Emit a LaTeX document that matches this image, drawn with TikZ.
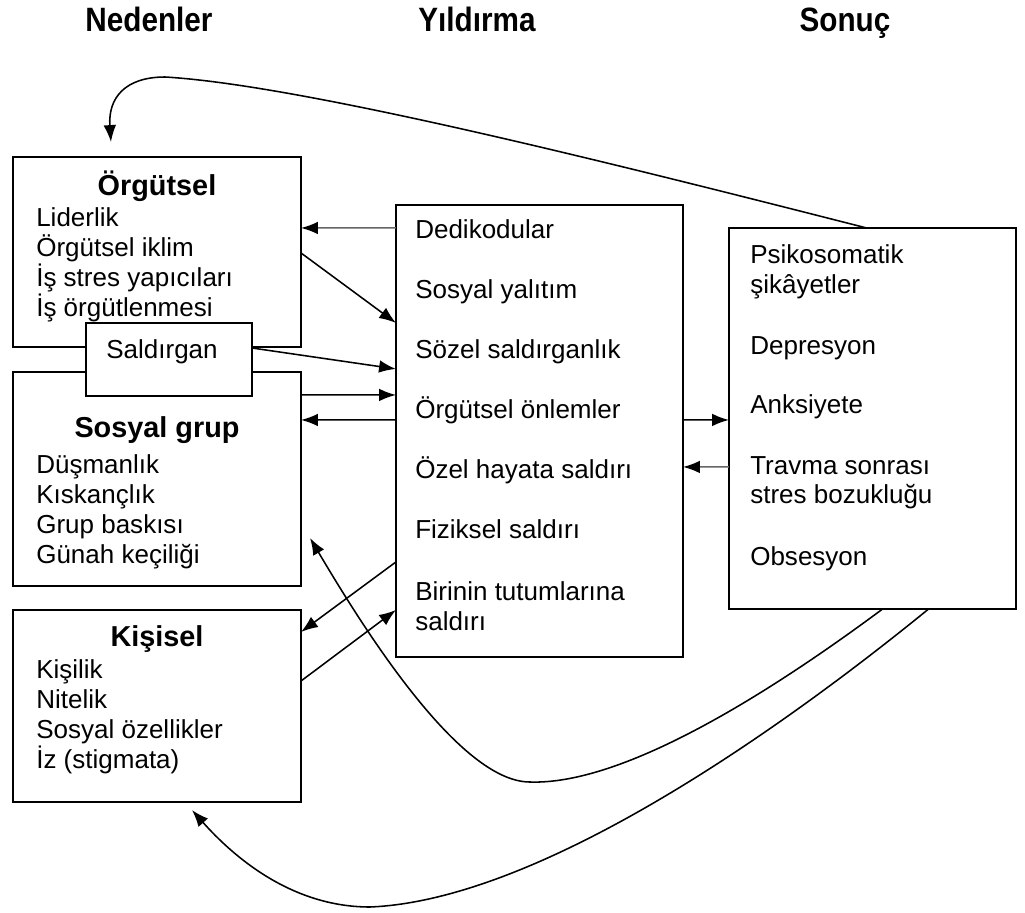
\documentclass[tikz,border=0pt]{standalone}
\usepackage{fontspec}
\setmainfont{Liberation Sans}
\newfontfamily\headfont[FakeStretch=0.88]{Liberation Sans}
\usetikzlibrary{
    arrows.meta,
    calc,
    positioning
}

\tikzset{
    box/.style={draw, line width=1.3pt, inner sep=0pt, outer sep=0pt, fill=white},
    txt/.style={anchor=base west, inner sep=0pt, font=\fontsize{18.5}{21}\selectfont},
    ttl/.style={anchor=base, inner sep=0pt, font=\bfseries\fontsize{20.5}{24}\selectfont},
    hdr/.style={anchor=base, inner sep=0pt, font=\headfont\bfseries\fontsize{24}{28}\selectfont},
    arr/.style={-{Latex[length=12pt,width=9pt,color=black]}, line width=1.1pt},
    garr/.style={arr, draw=black!60}
}

\begin{document}
\begin{tikzpicture}[x=0.025cm, y=-0.025cm]
    \useasboundingbox (0,0) rectangle (1025,913);

    % headings
    \node[hdr] (hneden) at (149,32) {Nedenler};
    \node[hdr] (hyild) at (477,32) {Yıldırma};
    \node[hdr] (hsonuc) at (845,32) {Sonuç};

    % boxes
    \node[box, minimum width=7.2cm, minimum height=4.75cm] (org) at (157,252) {};
    \node[box, minimum width=7.2cm, minimum height=5.35cm] (sos) at (157,479) {};
    \node[box, minimum width=4.15cm, minimum height=1.825cm] (sald) at (169,359.5) {};
    \node[box, minimum width=7.2cm, minimum height=4.8cm] (kis) at (157,706) {};
    \node[box, minimum width=7.175cm, minimum height=11.3cm] (mid) at (539.5,431) {};
    \node[box, minimum width=7.175cm, minimum height=9.525cm] (son) at (872.5,418.5) {};

    % Nedenler
    \node[ttl] (orgttl) at (157,195) {Örgütsel};
    \node[txt] (org1) at (36,226) {Liderlik};
    \node[txt] (org2) at (36,256) {Örgütsel iklim};
    \node[txt] (org3) at (36,286) {İş stres yapıcıları};
    \node[txt] (org4) at (36,316) {İş örgütlenmesi};
    \node[anchor=base, inner sep=0pt, font=\fontsize{18.5}{21}\selectfont] (saldtxt) at (162,358) {Saldırgan};
    \node[ttl] (sosttl) at (157,437) {Sosyal grup};
    \node[txt] (sos1) at (36,473) {Düşmanlık};
    \node[txt] (sos2) at (36,503) {Kıskançlık};
    \node[txt] (sos3) at (36,533) {Grup baskısı};
    \node[txt] (sos4) at (36,563) {Günah keçiliği};
    \node[ttl] (kisttl) at (157,646) {Kişisel};
    \node[txt] (kis1) at (36,678) {Kişilik};
    \node[txt] (kis2) at (36,708) {Nitelik};
    \node[txt] (kis3) at (36,738) {Sosyal özellikler};
    \node[txt] (kis4) at (36,768) {İz (stigmata)};

    % Yildirma
    \node[txt] (mid1) at (415,238) {Dedikodular};
    \node[txt] (mid2) at (415,298) {Sosyal yalıtım};
    \node[txt] (mid3) at (415,358) {Sözel saldırganlık};
    \node[txt] (mid4) at (415,418) {Örgütsel önlemler};
    \node[txt] (mid5) at (415,478) {Özel hayata saldırı};
    \node[txt] (mid6) at (415,538) {Fiziksel saldırı};
    \node[txt] (mid7) at (415,600) {Birinin tutumlarına};
    \node[txt] (mid8) at (415,630) {saldırı};

    % Sonuc
    \node[txt] (son1) at (750,263) {Psikosomatik};
    \node[txt] (son2) at (750,293) {şikâyetler};
    \node[txt] (son3) at (750,354) {Depresyon};
    \node[txt] (son4) at (750,413) {Anksiyete};
    \node[txt] (son5) at (750,474) {Travma sonrası};
    \node[txt] (son6) at (750,503) {stres bozukluğu};
    \node[txt] (son7) at (750,565) {Obsesyon};

    % straight arrows
    \draw[garr] ($(mid.north west)+(0,23)$) -- ($(org.north east)+(0,71)$);
    \draw[arr] ($(org.north east)+(0,96)$) -- ($(mid.north west)+(0,118)$);
    \draw[arr] ($(sald.north east)+(0,25)$) -- ($(mid.north west)+(0,164)$);
    \draw[arr] ($(sos.north east)+(0,23)$) -- ($(mid.north west)+(0,190)$);
    \draw[arr] ($(mid.north west)+(0,215)$) -- ($(sos.north east)+(0,48)$);
    \draw[arr] ($(mid.north east)+(0,215)$) -- ($(son.north west)+(0,192)$);
    \draw[garr] ($(son.north west)+(0,239)$) -- ($(mid.north east)+(0,262)$);
    \draw[arr] ($(mid.north west)+(0,357)$) -- ($(kis.north east)+(0,22)$);
    \draw[arr] ($(kis.north east)+(0,71)$) -- ($(mid.north west)+(0,405)$);

    % feedback curves
    \coordinate (orgtip) at ($(org.north west)+(98,-15)$);
    \coordinate (sostip) at ($(sos.north east)+(9,166)$);
    \coordinate (kistip) at ($(kis.south west)+(179,8)$);
    \draw[arr] ($(son.north)+(-6,0)$) .. controls (600,160) and (300,85) .. (165,77)
        .. controls (125,77) and (108,98) .. (orgtip);
    \draw[arr] ($(son.south)+(10,0)$) .. controls (760,700) and (620,785) .. (530,782)
        .. controls (460,782) and (365,631) .. (sostip);
    \draw[arr] ($(son.south)+(56,0)$) .. controls (780,730) and (540,900) .. (370,907)
        .. controls (290,907) and (232,855) .. (kistip);
\end{tikzpicture}
\end{document}
